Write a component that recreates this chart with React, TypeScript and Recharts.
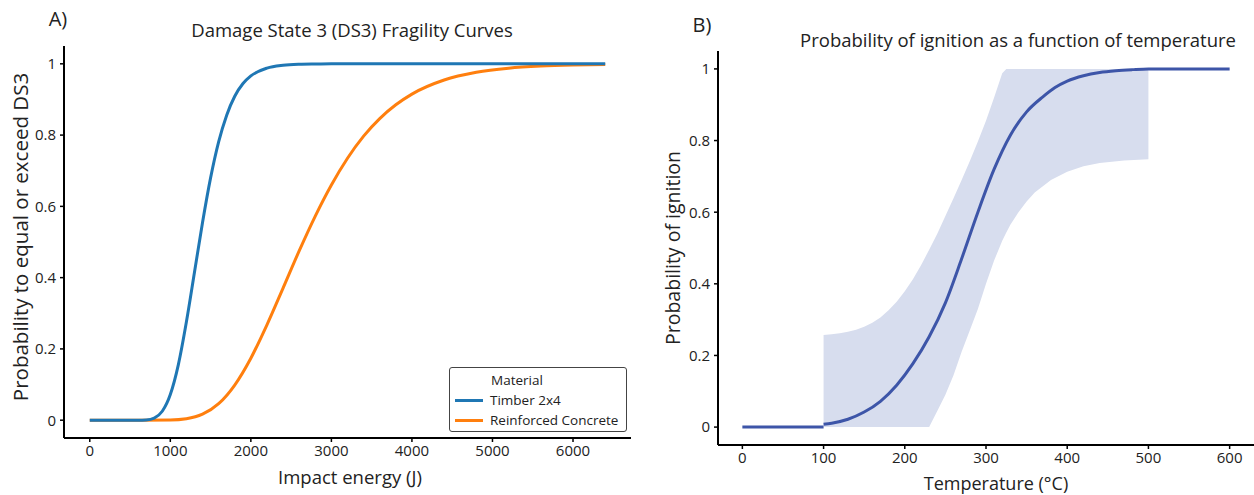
import React from 'react';
import { LineChart, ComposedChart, Line, Area, XAxis, YAxis } from 'recharts';

const FONT = '"Open Sans", "Noto Sans", sans-serif';

// Panel A – fragility curves
const timberEnergy = [0, 400, 600, 700, 800, 900, 1000, 1100, 1200, 1300, 1400, 1500, 1600, 1700, 1800, 1900, 2000, 2200, 2400, 2600, 2800, 3000, 4000, 5000, 6000, 6400];
const timberProb = [0, 0, 0, 0.0008, 0.006, 0.025, 0.072, 0.156, 0.276, 0.415, 0.555, 0.68, 0.781, 0.856, 0.909, 0.944, 0.966, 0.988, 0.996, 0.9988, 0.9996, 1, 1, 1, 1, 1];
const concreteEnergy = [0, 600, 1000, 1200, 1400, 1600, 1800, 2000, 2200, 2400, 2600, 2800, 3000, 3200, 3400, 3600, 3800, 4000, 4400, 4800, 5200, 5600, 6000, 6400];
const concreteProb = [0, 0, 0.0006, 0.0041, 0.0167, 0.0463, 0.0987, 0.174, 0.2676, 0.3707, 0.475, 0.5728, 0.66, 0.735, 0.797, 0.8464, 0.885, 0.915, 0.9545, 0.9761, 0.9877, 0.9937, 0.9968, 0.9984];
const energyTicks = [0, 1000, 2000, 3000, 4000, 5000, 6000];
const probTicks = [0, 0.2, 0.4, 0.6, 0.8, 1];

// Panel B – ignition probability
const tempFlat = [0, 100];
const probFlat = [0, 0];
const tempCurve = [100, 110, 130, 150, 170, 190, 210, 230, 250, 270, 290, 310, 330, 350, 370, 385, 400, 420, 440, 460, 480, 500, 600];
const probCurve = [0.008, 0.011, 0.022, 0.042, 0.072, 0.117, 0.177, 0.252, 0.347, 0.47, 0.6, 0.72, 0.815, 0.88, 0.922, 0.948, 0.966, 0.981, 0.99, 0.995, 0.998, 1, 1];
const tempBand = [100, 110, 120, 130, 140, 150, 160, 170, 180, 190, 200, 210, 220, 230, 240, 250, 260, 270, 280, 290, 300, 310, 320, 325, 330, 340, 350, 360, 380, 400, 420, 440, 470, 500];
const bandLow = [0, 0, 0, 0, 0, 0, 0, 0, 0, 0, 0, 0, 0, 0, 0.045, 0.09, 0.145, 0.21, 0.27, 0.33, 0.4, 0.465, 0.52, 0.543, 0.565, 0.6, 0.63, 0.655, 0.69, 0.713, 0.728, 0.737, 0.744, 0.748];
const bandHigh = [0.257, 0.259, 0.262, 0.266, 0.272, 0.28, 0.291, 0.306, 0.326, 0.35, 0.379, 0.413, 0.452, 0.495, 0.54, 0.589, 0.639, 0.69, 0.742, 0.797, 0.855, 0.92, 0.988, 1, 1, 1, 1, 1, 1, 1, 1, 1, 1, 1];
const tempTicks = [0, 100, 200, 300, 400, 500, 600];

const COLOR_TIMBER = '#1f77b4';
const COLOR_CONCRETE = '#ff7f0e';
const COLOR_IGN = '#3d55a8';
const COLOR_BAND = '#d7ddee';

const timberData = timberEnergy.map((x, i) => ({ x, y: timberProb[i] }));
const concreteData = concreteEnergy.map((x, i) => ({ x, y: concreteProb[i] }));
const flatData = tempFlat.map((x, i) => ({ x, y: probFlat[i] }));
const curveData = tempCurve.map((x, i) => ({ x, y: probCurve[i] }));
const bandData = tempBand.map((x, i) => ({ x, band: [bandLow[i], bandHigh[i]] }));

const axisLine = { stroke: '#000', strokeWidth: 2 };
const tickLine = { stroke: '#000', strokeWidth: 1.5 };
const tickStyle = { fill: '#222', fontSize: 15, fontFamily: FONT };
const fmt = (v: number) => String(v);

const abs = (left: number, top: number, extra: React.CSSProperties = {}): React.CSSProperties => ({
  position: 'absolute',
  left,
  top,
  transform: 'translate(-50%, -50%)',
  whiteSpace: 'nowrap',
  color: '#222',
  fontFamily: FONT,
  lineHeight: 1,
  ...extra,
});

export default function App() {
  return (
    <div style={{ position: 'absolute', left: 0, top: 0, width: 1254, height: 495, background: '#fff', fontFamily: FONT }}>
      <div style={{ position: 'absolute', left: 0, top: 0 }}>
        <LineChart width={640} height={495} margin={{ top: 46, right: 9, bottom: 27, left: 14 }}>
          <XAxis
            type="number"
            dataKey="x"
            domain={[-320, 6720]}
            ticks={energyTicks}
            tickFormatter={fmt}
            axisLine={axisLine}
            tickLine={tickLine}
            tick={tickStyle}
            tickSize={4}
            tickMargin={3}
            height={30}
          />
          <YAxis
            type="number"
            dataKey="y"
            domain={[-0.05, 1.05]}
            ticks={probTicks}
            tickFormatter={fmt}
            axisLine={axisLine}
            tickLine={tickLine}
            tick={tickStyle}
            tickSize={4}
            tickMargin={4}
            width={50}
          />
          <Line data={concreteData} dataKey="y" type="monotone" stroke={COLOR_CONCRETE} strokeWidth={3} dot={false} activeDot={false} isAnimationActive={false} />
          <Line data={timberData} dataKey="y" type="monotone" stroke={COLOR_TIMBER} strokeWidth={3} dot={false} activeDot={false} isAnimationActive={false} />
        </LineChart>
      </div>

      <div style={{ position: 'absolute', left: 640, top: 0 }}>
        <ComposedChart width={614} height={495} margin={{ top: 51, right: 0, bottom: 20, left: 28 }}>
          <XAxis
            type="number"
            dataKey="x"
            domain={[-30, 630]}
            ticks={tempTicks}
            tickFormatter={fmt}
            axisLine={axisLine}
            tickLine={tickLine}
            tick={tickStyle}
            tickSize={4}
            tickMargin={3}
            height={30}
          />
          <YAxis
            type="number"
            domain={[-0.05, 1.05]}
            ticks={probTicks}
            tickFormatter={fmt}
            axisLine={axisLine}
            tickLine={tickLine}
            tick={tickStyle}
            tickSize={4}
            tickMargin={4}
            width={50}
          />
          <Area data={bandData} dataKey="band" type="linear" stroke="none" fill={COLOR_BAND} fillOpacity={1} isAnimationActive={false} activeDot={false} />
          <Line data={flatData} dataKey="y" type="linear" stroke={COLOR_IGN} strokeWidth={3} dot={false} activeDot={false} isAnimationActive={false} />
          <Line data={curveData} dataKey="y" type="monotone" stroke={COLOR_IGN} strokeWidth={3} dot={false} activeDot={false} isAnimationActive={false} />
        </ComposedChart>
      </div>

      {/* Panel labels and titles */}
      <div style={abs(58, 19, { fontSize: 20 })}>A)</div>
      <div style={abs(352, 30, { fontSize: 18.5 })}>Damage State 3 (DS3) Fragility Curves</div>
      <div style={abs(702, 25, { fontSize: 20 })}>B)</div>
      <div style={abs(1018, 40, { fontSize: 18.5 })}>Probability of ignition as a function of temperature</div>

      {/* Axis labels */}
      <div style={abs(20, 237, { fontSize: 20.5, transform: 'translate(-50%, -50%) rotate(-90deg)' })}>Probability to equal or exceed DS3</div>
      <div style={abs(350, 477, { fontSize: 18.5 })}>Impact energy (J)</div>
      <div style={abs(673, 248, { fontSize: 19.5, transform: 'translate(-50%, -50%) rotate(-90deg)' })}>Probability of ignition</div>
      <div style={abs(996, 483, { fontSize: 18 })}>Temperature (°C)</div>

      {/* Legend */}
      <div
        style={{
          position: 'absolute',
          left: 449,
          top: 367,
          width: 178,
          height: 65,
          boxSizing: 'border-box',
          border: '1.5px solid #444',
          borderRadius: 3,
          background: '#fff',
          fontFamily: FONT,
          fontSize: 13.5,
          color: '#222',
        }}
      >
        <div style={{ position: 'absolute', left: 41, top: 4, lineHeight: '16px' }}>Material</div>
        {[
          { label: 'Timber 2x4', color: COLOR_TIMBER, top: 24 },
          { label: 'Reinforced Concrete', color: COLOR_CONCRETE, top: 44 },
        ].map((e) => (
          <div key={e.label} style={{ position: 'absolute', left: 5, top: e.top, height: 16, display: 'flex', alignItems: 'center' }}>
            <span style={{ display: 'inline-block', width: 28, height: 3, background: e.color, marginRight: 7 }} />
            <span style={{ lineHeight: '16px' }}>{e.label}</span>
          </div>
        ))}
      </div>
    </div>
  );
}
